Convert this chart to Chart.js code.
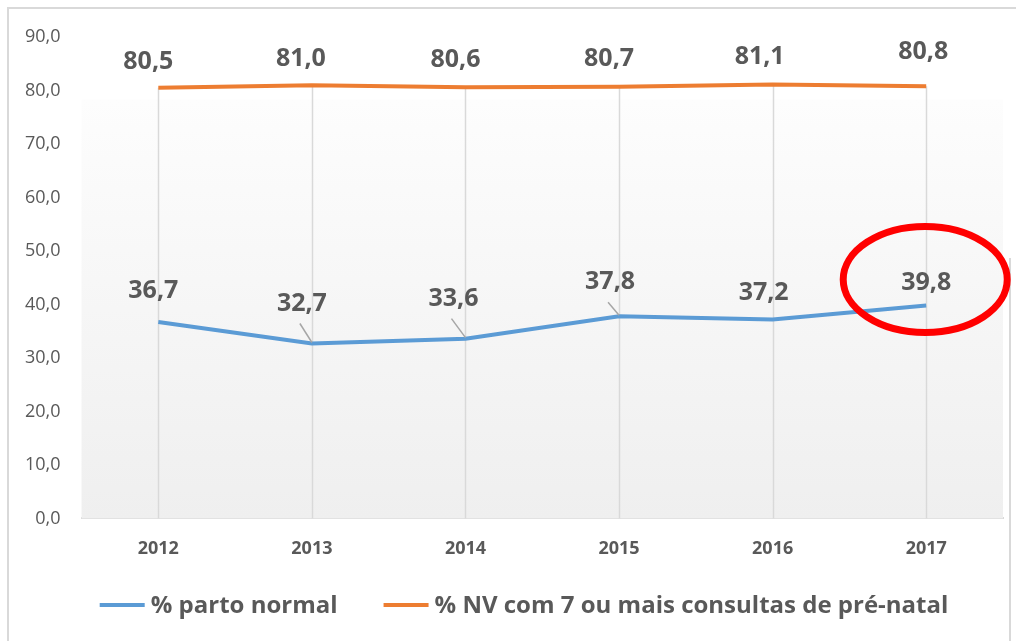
<!DOCTYPE html>
<html>
<head>
<meta charset="utf-8">
<script src="https://cdn.jsdelivr.net/npm/chart.js@4.4.1/dist/chart.umd.min.js"></script>
<style>
  html, body { margin: 0; padding: 0; background: #fff; }
  #wrap { width: 1016px; height: 641px; position: relative; }
</style>
</head>
<body>
<div id="wrap"><canvas id="myChart"></canvas></div>
<script>
// data
const anos = ['2012', '2013', '2014', '2015', '2016', '2017'];
const partoNormal = [36.7, 32.7, 33.6, 37.8, 37.2, 39.8];
const preNatal = [80.5, 81.0, 80.6, 80.7, 81.1, 80.8];
const yTicks = [0, 10, 20, 30, 40, 50, 60, 70, 80, 90];

const cinza = '#595959';
const linha = '#d9d9d9';
const fonte = '"Open Sans", "Liberation Sans", sans-serif';

function virgula(v) {
  return v.toFixed(1).replace('.', ',');
}

// where excel put each data label, relative to its point (dx, dy) + leader lines
const rotulos = [
  { dx: [-5, -10, -12, -9, -9, 0], dy: [-31, -40, -40, -34, -27, -23], leader: [false, true, true, true, false, false] },
  { dx: [-10, -11, -10, -10, -13, -3], dy: [-26, -26, -27, -28, -28, -34], leader: [false, false, false, false, false, false] }
];

// background, frame and drop lines
const fundo = {
  id: 'fundo',
  beforeDatasetsDraw(chart) {
    const {ctx, chartArea, scales} = chart;
    const top = scales.y.getPixelForValue(78.3);
    const g = ctx.createLinearGradient(0, top, 0, chartArea.bottom);
    g.addColorStop(0, '#fdfdfd');
    g.addColorStop(1, '#efefef');
    ctx.save();
    ctx.fillStyle = g;
    ctx.fillRect(chartArea.left, top, chartArea.right - chartArea.left, chartArea.bottom - top);

    // drop lines from highest point down to the axis
    ctx.strokeStyle = linha;
    ctx.lineWidth = 1.5;
    const m0 = chart.getDatasetMeta(0).data;
    const m1 = chart.getDatasetMeta(1).data;
    for (let i = 0; i < anos.length; i++) {
      const x = Math.round(m0[i].x) + 0.5;
      ctx.beginPath();
      ctx.moveTo(x, Math.min(m0[i].y, m1[i].y));
      ctx.lineTo(x, chartArea.bottom);
      ctx.stroke();
    }
    ctx.restore();
  },
  afterDraw(chart) {
    const {ctx, width, height} = chart;
    ctx.save();
    ctx.strokeStyle = linha;
    ctx.lineWidth = 2;
    ctx.beginPath();
    ctx.moveTo(8, height);
    ctx.lineTo(8, 8);
    ctx.lineTo(width, 8);
    ctx.moveTo(1010, 258);
    ctx.lineTo(1010, height);
    ctx.stroke();
    ctx.restore();
  }
};

// data labels
const etiquetas = {
  id: 'etiquetas',
  afterDatasetsDraw(chart) {
    const {ctx} = chart;
    ctx.save();
    ctx.font = 'bold 25px ' + fonte;
    ctx.fillStyle = cinza;
    ctx.textAlign = 'center';
    ctx.textBaseline = 'middle';
    chart.data.datasets.forEach((ds, d) => {
      const meta = chart.getDatasetMeta(d);
      const r = rotulos[d];
      meta.data.forEach((pt, i) => {
        const x = pt.x + r.dx[i];
        const y = pt.y + r.dy[i];
        if (r.leader[i]) {
          ctx.strokeStyle = '#a6a6a6';
          ctx.lineWidth = 1.5;
          ctx.beginPath();
          ctx.moveTo(x - 2, y + 20);
          ctx.lineTo(pt.x, pt.y - 1);
          ctx.stroke();
        }
        ctx.fillText(virgula(ds.data[i]), x, y);
      });
    });
    ctx.restore();
  }
};

// legend like excel: short line then the text, wide gap between items
const legenda = {
  id: 'legenda',
  afterDraw(chart) {
    const {ctx} = chart;
    const ds = chart.data.datasets;
    const yMid = 605, traco = 45, gapTxt = 6, gapItem = 46;
    ctx.save();
    ctx.font = 'bold 24px ' + fonte;
    const larg = ds.map(d => ctx.measureText(d.label).width);
    const total = larg.reduce((a, w) => a + traco + gapTxt + w, 0) + gapItem * (ds.length - 1);
    let x = 524 - total / 2;
    ds.forEach((d, i) => {
      ctx.strokeStyle = d.borderColor;
      ctx.lineWidth = 4;
      ctx.beginPath();
      ctx.moveTo(x, yMid);
      ctx.lineTo(x + traco, yMid);
      ctx.stroke();
      ctx.fillStyle = cinza;
      ctx.textBaseline = 'middle';
      ctx.fillText(d.label, x + traco + gapTxt, yMid + 1);
      x += traco + gapTxt + larg[i] + gapItem;
    });
    ctx.restore();
  }
};

// red circle around the last value
const destaque = {
  id: 'destaque',
  afterDraw(chart) {
    const pt = chart.getDatasetMeta(0).data[anos.length - 1];
    const ctx = chart.ctx;
    ctx.save();
    ctx.strokeStyle = '#ff0000';
    ctx.lineWidth = 7;
    ctx.beginPath();
    ctx.ellipse(pt.x - 1, pt.y - 26, 82, 53, 0, 0, Math.PI * 2);
    ctx.stroke();
    ctx.restore();
  }
};

const ctx = document.getElementById('myChart');

new Chart(ctx, {
  type: 'line',
  data: {
    labels: anos,
    datasets: [{
      label: '% parto normal',
      data: partoNormal,
      borderColor: '#5b9bd5',
      backgroundColor: '#5b9bd5',
      borderWidth: 4,
      pointRadius: 0,
      tension: 0
    }, {
      label: '% NV com 7 ou mais consultas de pré-natal',
      data: preNatal,
      borderColor: '#ed7d31',
      backgroundColor: '#ed7d31',
      borderWidth: 4,
      pointRadius: 0,
      tension: 0
    }]
  },
  options: {
    responsive: true,
    maintainAspectRatio: false,
    animation: false,
    layout: {
      padding: { left: 4, right: 13, top: 37, bottom: 61 }
    },
    plugins: {
      legend: { display: false },
      tooltip: { enabled: false }
    },
    scales: {
      x: {
        offset: true,
        grid: { display: true, color: 'transparent', drawTicks: false },
        border: { display: true, color: linha, width: 2 },
        ticks: {
          padding: 20,
          color: cinza,
          font: { family: fonte, size: 18, weight: 'bold' }
        }
      },
      y: {
        min: 0,
        max: 90,
        afterBuildTicks(axis) {
          axis.ticks = yTicks.map(v => ({ value: v }));
        },
        grid: { display: false, drawTicks: false },
        border: { display: false },
        ticks: {
          padding: 21,
          color: cinza,
          font: { family: fonte, size: 18 },
          callback: v => virgula(v)
        }
      }
    }
  },
  plugins: [fundo, etiquetas, legenda, destaque]
});
</script>
</body>
</html>
